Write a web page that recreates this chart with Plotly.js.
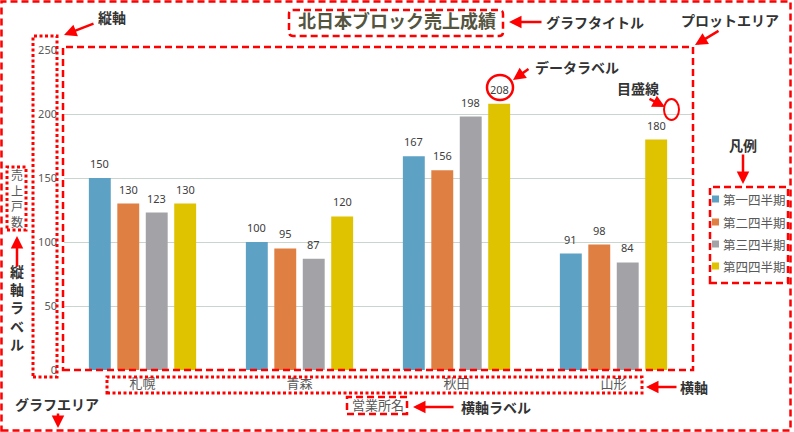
<!DOCTYPE html>
<html><head><meta charset="utf-8">
<script src="https://cdn.plot.ly/plotly-3.0.1.min.js"></script>
<style>html,body{margin:0;padding:0;background:#fff}#chart{width:794px;height:432px}</style>
</head><body><div id="chart"></div>
<script>
const categories = ['札幌','青森','秋田','山形'];
const seriesNames = ['第一四半期','第二四半期','第三四半期','第四四半期'];
const q1 = [150,100,167,91];
const q2 = [130,95,156,98];
const q3 = [123,87,198,84];
const q4 = [130,120,208,180];
const yTicks = [0,50,100,150,200,250];
const seriesValues = [q1,q2,q3,q4];
const colors = ['#5da1c4','#e07f42','#a3a2a7','#dfc200'];

const L=64,R=692,T=50,B=370;
const PW=R-L, PH=B-T;
const px = p => (p-L)/PW;
const py = p => (B-p)/PH;
const RED='#ff0000';
const JP='"Noto Sans CJK JP", "Noto Sans", sans-serif';
const NUM='"Noto Sans", "Open Sans", sans-serif';
const bargap=0.275, bargroupgap=0.23;

const traces = seriesValues.map((vals,i)=>({
  type:'bar', name:seriesNames[i], x:categories, y:vals,
  marker:{color:colors[i]}, showlegend:false, hoverinfo:'skip'
}));

const annotations=[];
const slot = PW/categories.length*(1-bargap)/seriesValues.length;
seriesValues.forEach((vals,i)=>{
  const off=(i-(seriesValues.length-1)/2)*slot;
  vals.forEach((v,j)=>annotations.push({xref:'x',yref:'y',x:categories[j],y:v,text:String(v),
    showarrow:false,xshift:off,yshift:5,yanchor:'bottom',font:{size:11,color:'#404040',family:NUM}}));
});

// manual legend
const shapes=[];
const legY=[199,222,244,266];
seriesNames.forEach((n,i)=>{
  const cy=legY[i];
  shapes.push({type:'rect',xref:'paper',yref:'paper',x0:px(712),x1:px(719),y0:py(cy+3.5),y1:py(cy-3.5),
    line:{width:0},fillcolor:colors[i],layer:'above'});
  annotations.push({xref:'paper',yref:'paper',x:px(721),y:py(cy),xanchor:'left',yanchor:'middle',
    text:n,showarrow:false,font:{size:12.5,color:'#595959',family:JP}});
});

// y axis title (vertical stacked)
annotations.push({xref:'paper',yref:'paper',x:px(16.5),y:py(198),xanchor:'center',yanchor:'middle',
  text:'売<br>上<br>戸<br>数',showarrow:false,font:{size:12,color:'#595959',family:JP}});

function box(x0,y0,x1,y1,dash,width){
  shapes.push({type:'rect',xref:'paper',yref:'paper',x0:px(x0),x1:px(x1),y0:py(y1),y1:py(y0),
    line:{color:RED,width:width,dash:dash},fillcolor:'rgba(0,0,0,0)',layer:'above'});
}
function ellipse(x0,y0,x1,y1,width){
  shapes.push({type:'circle',xref:'paper',yref:'paper',x0:px(x0),x1:px(x1),y0:py(y1),y1:py(y0),
    line:{color:RED,width:width},fillcolor:'rgba(0,0,0,0)',layer:'above'});
}
function rbox(x0,y0,x1,y1,r,dash,width){
  const X=v=>px(v), Y=v=>py(v);
  const p='M'+X(x0+r)+','+Y(y0)+' L'+X(x1-r)+','+Y(y0)+' Q'+X(x1)+','+Y(y0)+' '+X(x1)+','+Y(y0+r)+
    ' L'+X(x1)+','+Y(y1-r)+' Q'+X(x1)+','+Y(y1)+' '+X(x1-r)+','+Y(y1)+' L'+X(x0+r)+','+Y(y1)+
    ' Q'+X(x0)+','+Y(y1)+' '+X(x0)+','+Y(y1-r)+' L'+X(x0)+','+Y(y0+r)+' Q'+X(x0)+','+Y(y0)+' '+X(x0+r)+','+Y(y0)+' Z';
  shapes.push({type:'path',xref:'paper',yref:'paper',path:p,line:{color:RED,width:width,dash:dash},
    fillcolor:'rgba(0,0,0,0)',layer:'above'});
}
const DASH='7px,4px', DOT='3px,2.5px';
box(1.5,1.5,790.5,430.5,DASH,2.5);
box(63,47,693,370,DASH,2.5);
rbox(289,10,503,36,4,DASH,2.5);
box(33,36,57,377,DOT,3);
box(7,167,26,230,DOT,3);
box(107,377,642,393,DOT,3);
box(347,397,407,414,DASH,2.5);
box(710,187,788,283,DASH,2.5);
ellipse(487,75,513,100,2.5);
ellipse(664,99,679,120,2);

// callout labels
function label(t,x,y){
  annotations.push({xref:'paper',yref:'paper',x:px(x),y:py(y),xanchor:'center',yanchor:'middle',
    text:t,showarrow:false,font:{size:14,color:'#333333',family:JP,weight:'bold'}});
}
label('縦軸',112,17);
label('グラフタイトル',595,22);
label('プロットエリア',730,20);
label('データラベル',577,67);
label('目盛線',638,88);
label('凡例',743,145);
label('縦<br>軸<br>ラ<br>ベ<br>ル',17,307);
label('横軸',694,387);
label('横軸ラベル',496,407);
label('グラフエリア',57,404);

function arrow(tx,ty,hx,hy){
  annotations.push({xref:'paper',yref:'paper',x:px(hx),y:py(hy),ax:tx-hx,ay:ty-hy,text:'',
    showarrow:true,arrowhead:2,arrowsize:1,arrowwidth:2.5,arrowcolor:RED,standoff:0,startstandoff:0});
}
arrow(95,23,64,35);
arrow(543,22,509,22);
arrow(720,30,695,45);
arrow(530,68,513,80);
arrow(648,98,665,107);
arrow(743,153,743,184);
arrow(17,268,17,236);
arrow(678,387,646,387);
arrow(455,407,413,407);
arrow(58,412,58,428);

const layout={
  width:794,height:432,
  margin:{l:L,r:794-R,t:T,b:432-B,pad:0},
  paper_bgcolor:'#ffffff',plot_bgcolor:'#ffffff',
  font:{family:JP,color:'#595959'},
  title:{text:'北日本ブロック売上成績',font:{size:18,color:'#55553f',family:JP,weight:'bold'},
    xref:'container',x:0.5,xanchor:'center',yref:'container',y:1-22/432,yanchor:'middle'},
  barmode:'group',bargap:bargap,bargroupgap:bargroupgap,
  showlegend:false,
  xaxis:{type:'category',categoryarray:categories,showgrid:false,zeroline:false,showline:false,ticks:'',
    ticklabelstandoff:4,
    tickfont:{size:13,color:'#595959',family:JP},
    title:{text:'営業所名',font:{size:13,color:'#595959',family:JP},standoff:9}},
  yaxis:{range:[0,250],tickvals:yTicks,showgrid:true,gridcolor:'#c9d6cf',gridwidth:1,zeroline:false,
    showline:false,ticks:'',ticklabelstandoff:6,tickfont:{size:11,color:'#595959',family:NUM}},
  annotations:annotations,shapes:shapes
};
Plotly.newPlot('chart',traces,layout,{displayModeBar:false,staticPlot:true});
</script></body></html>
